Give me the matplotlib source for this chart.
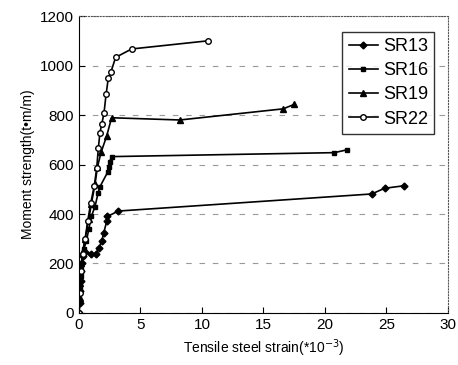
import matplotlib
matplotlib.use("Agg")
import matplotlib.pyplot as plt

plt.rcParams['font.family'] = ['Liberation Sans', 'DejaVu Sans']

# SR13
sr13Strain = [0, 0.05, 0.1, 0.15, 0.2, 0.25, 0.3, 0.45, 1.0, 1.35, 1.6, 1.85, 2.0, 2.25, 2.3, 3.2, 23.8, 24.85, 26.4]
sr13Moment = [0, 40, 90, 130, 170, 200, 230, 245, 240, 238, 262, 290, 322, 370, 390, 412, 481, 504, 514]

# SR16
sr16Strain = [0, 0.05, 0.1, 0.15, 0.2, 0.3, 0.4, 0.6, 0.8, 1.0, 1.3, 1.55, 1.7, 2.35, 2.4, 2.5, 2.65, 20.76, 21.76]
sr16Moment = [0, 50, 100, 150, 190, 230, 260, 290, 340, 390, 430, 484, 510, 571, 591, 611, 632, 648, 659]

# SR19
sr19Strain = [0, 0.05, 0.1, 0.2, 0.3, 0.5, 0.8, 1.0, 1.3, 1.5, 1.8, 2.25, 2.65, 8.2, 16.6, 17.5]
sr19Moment = [0, 60, 120, 200, 250, 300, 380, 440, 520, 590, 650, 715, 789, 780, 825, 843]

# SR22
sr22Strain = [0, 0.1, 0.2, 0.3, 0.5, 0.7, 0.95, 1.24, 1.44, 1.57, 1.7, 1.85, 2.03, 2.2, 2.38, 2.6, 2.98, 4.28, 10.5]
sr22Moment = [0, 80, 170, 240, 300, 370, 443, 514, 585, 665, 728, 763, 807, 883, 948, 975, 1033, 1067, 1100]

fig = plt.figure(figsize=(4.58, 3.65), dpi=100)
ax = fig.add_axes([0.1725, 0.1425, 0.8055, 0.8135])

ax.plot(sr13Strain, sr13Moment, '-D', color='black', lw=1.2, ms=3.5, label='SR13')
ax.plot(sr16Strain, sr16Moment, '-s', color='black', lw=1.2, ms=3.5, label='SR16')
ax.plot(sr19Strain, sr19Moment, '-^', color='black', lw=1.2, ms=4, label='SR19')
ax.plot(sr22Strain, sr22Moment, '-o', color='black', lw=1.2, ms=4, mfc='white', label='SR22')

ax.set_xlim(0, 30)
ax.set_ylim(0, 1200)
ax.set_xticks(range(0, 31, 5))
ax.set_yticks(range(0, 1201, 200))
ax.yaxis.grid(True, linestyle=(0, (5, 7)), color='#999999', lw=0.8)
ax.tick_params(direction='in', labelsize=11, length=4)

for spine in ['top', 'right']:
    ax.spines[spine].set_linestyle(':')
    ax.spines[spine].set_color('#555555')

ax.set_xlabel('Tensile steel strain(*10$^{-3}$)', fontsize=10)
ax.set_ylabel('Moment strength(t\u2022m/m)', fontsize=10)

leg = ax.legend(loc='upper right', fontsize=13, frameon=True, fancybox=False,
                edgecolor='black', handlelength=1.6, handletextpad=0.3, borderpad=0.35,
                labelspacing=0.4, bbox_to_anchor=(0.988, 0.978))
leg.get_frame().set_linewidth(1.0)

fig.savefig('out.png', dpi=100)
